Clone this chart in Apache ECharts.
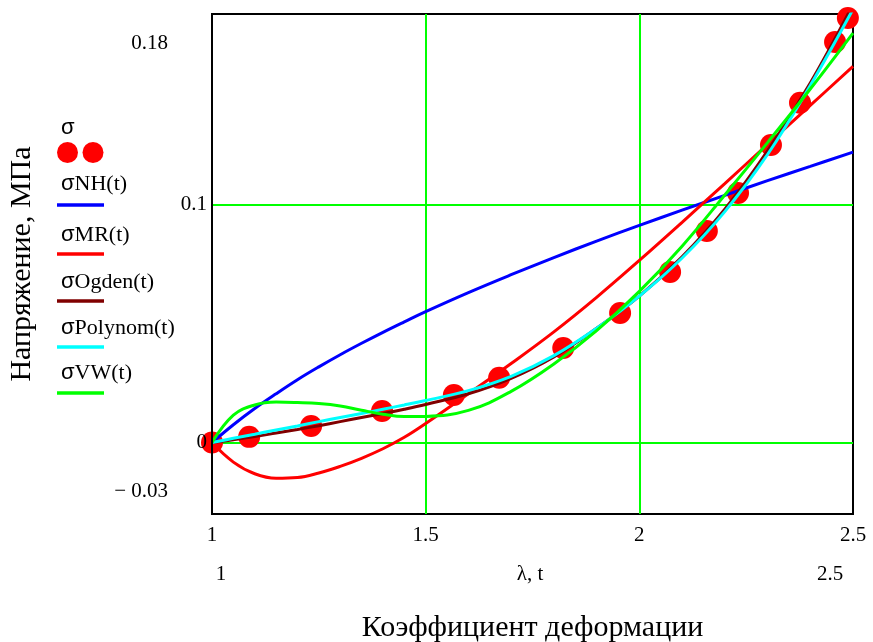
<!DOCTYPE html>
<html>
<head>
<meta charset="utf-8">
<script src="https://cdn.jsdelivr.net/npm/echarts@6/dist/echarts.min.js"></script>
<style>
  html, body { margin: 0; padding: 0; background: #fff; }
  #chart { width: 873px; height: 642px; }
</style>
</head>
<body>
<div id="chart"></div>
<script>
// Measured stress (MPa) against stretch ratio
const lambdaData = [1.0, 1.087, 1.232, 1.398, 1.566, 1.672, 1.822, 1.955, 2.072, 2.158, 2.231, 2.308, 2.376, 2.458, 2.488];
const sigmaData  = [0, 0.0024, 0.0070, 0.0133, 0.0200, 0.0272, 0.0397, 0.0544, 0.0716, 0.0889, 0.1048, 0.1250, 0.1427, 0.1682, 0.1783];

// Model curves sampled along t
const tValues = [1.0, 1.05, 1.1, 1.15, 1.2, 1.25, 1.3, 1.35, 1.4, 1.45, 1.5, 1.6, 1.7, 1.8, 1.9, 2.0, 2.1, 2.2, 2.3, 2.4, 2.5];
const sigmaNH      = [0, 0.0075, 0.0143, 0.0205, 0.0264, 0.0318, 0.0369, 0.0417, 0.0463, 0.0507, 0.0550, 0.0630, 0.0705, 0.0777, 0.0846, 0.0912, 0.0976, 0.1038, 0.1100, 0.1160, 0.1220];
const sigmaMR      = [0, -0.0082, -0.0131, -0.0150, -0.0147, -0.0128, -0.0100, -0.0066, -0.0026, 0.0022, 0.0080, 0.0205, 0.0332, 0.0465, 0.0610, 0.0765, 0.0925, 0.1088, 0.1252, 0.1416, 0.1580];
const sigmaOgden   = [0, 0.0012, 0.0025, 0.0040, 0.0055, 0.0071, 0.0088, 0.0105, 0.0122, 0.0140, 0.0160, 0.0205, 0.0270, 0.0360, 0.0480, 0.0615, 0.0780, 0.0980, 0.1225, 0.1510, 0.1840];
const sigmaPolynom = [0, 0.0018, 0.0035, 0.0053, 0.0070, 0.0088, 0.0105, 0.0122, 0.0140, 0.0158, 0.0177, 0.0218, 0.0278, 0.0365, 0.0480, 0.0615, 0.0775, 0.0970, 0.1210, 0.1500, 0.1820];
const sigmaVW      = [0, 0.0115, 0.0158, 0.0170, 0.0168, 0.0164, 0.0154, 0.0136, 0.0119, 0.0109, 0.0110, 0.0135, 0.0215, 0.0330, 0.0470, 0.0635, 0.0825, 0.1040, 0.1260, 0.1485, 0.1720];

// Grid line positions
const xGridLines = [1.5, 2];
const yGridLines = [0, 0.1];

const legendItems = [
  { name: 'NH(t)', color: '#0000ff' },
  { name: 'MR(t)', color: '#ff0000' },
  { name: 'Ogden(t)', color: '#800000' },
  { name: 'Polynom(t)', color: '#00ffff' },
  { name: 'VW(t)', color: '#00ff00' }
];

const SERIF = '"Liberation Serif", "Times New Roman", serif';
const SANS = '"Liberation Sans", Arial, sans-serif';

function pairs(xs, ys) { return xs.map((x, i) => [x, ys[i]]); }
function near(a, b) { return Math.abs(a - b) < 1e-9; }

const curveSeries = [sigmaNH, sigmaMR, sigmaOgden, sigmaPolynom, sigmaVW].map((ys, i) => ({
  type: 'line',
  name: 'σ' + legendItems[i].name,
  data: pairs(tValues, ys),
  smooth: 0.4,
  showSymbol: false,
  z: 3 + i,
  lineStyle: { color: legendItems[i].color, width: 3 },
  itemStyle: { color: legendItems[i].color },
  clip: true
}));

// Legend drawn as text above a sample line
const legendGraphics = [];
legendGraphics.push({
  type: 'text', x: 61, y: 128,
  style: { text: 'σ', font: '22px ' + SANS, fill: '#000', textVerticalAlign: 'middle' }
});
legendGraphics.push({ type: 'circle', shape: { cx: 67.5, cy: 152.5, r: 10.5 }, style: { fill: '#ff0000' } });
legendGraphics.push({ type: 'circle', shape: { cx: 93, cy: 152.5, r: 10.5 }, style: { fill: '#ff0000' } });
const legendTextY = [184, 235, 282, 328, 373];
const legendLineY = [205, 254, 301, 347, 393];
legendItems.forEach((item, i) => {
  legendGraphics.push({
    type: 'text', x: 61, y: legendTextY[i],
    style: {
      text: '{s|σ}{n|' + item.name + '}',
      textVerticalAlign: 'middle',
      rich: {
        s: { font: '22px ' + SANS, fill: '#000' },
        n: { font: '22px ' + SERIF, fill: '#000' }
      }
    }
  });
  legendGraphics.push({
    type: 'line', shape: { x1: 57, y1: legendLineY[i], x2: 104, y2: legendLineY[i] },
    style: { stroke: item.color, lineWidth: 3.5 }
  });
});

// Secondary x-axis caption row
const captionRow = [
  { text: '1', x: 221 },
  { text: 'λ, t', x: 530 },
  { text: '2.5', x: 830 }
].map(c => ({
  type: 'text', x: c.x, y: 574,
  style: { text: c.text, font: '21px ' + SERIF, fill: '#000', textAlign: 'center', textVerticalAlign: 'middle' }
}));

const option = {
  animation: false,
  backgroundColor: '#fff',
  grid: {
    left: 212, top: 14, width: 641, height: 500,
    show: true, borderColor: '#000', borderWidth: 2,
    containLabel: false, outerBoundsMode: 'none'
  },
  xAxis: {
    type: 'value', min: 1, max: 2.5, interval: 0.5,
    name: 'Коэффициент деформации',
    nameLocation: 'middle', nameGap: 99,
    nameTextStyle: { fontFamily: SERIF, fontSize: 30, color: '#000' },
    axisLine: { lineStyle: { color: '#000', width: 2 } },
    axisTick: { show: false },
    splitLine: { show: false },
    axisLabel: {
      margin: 11, color: '#000', fontFamily: SERIF, fontSize: 21,
      formatter: v => String(Math.round(v * 10) / 10)
    }
  },
  yAxis: {
    type: 'value', min: -0.03, max: 0.18, interval: 0.01, z: 10,
    name: 'Напряжение, МПа',
    nameLocation: 'middle', nameGap: 175, nameRotate: 90,
    nameTextStyle: { fontFamily: SERIF, fontSize: 30, color: '#000' },
    axisLine: { lineStyle: { color: '#000', width: 2 } },
    axisTick: { show: false },
    splitLine: { show: false },
    axisLabel: {
      margin: 5, color: '#000', fontFamily: SERIF, fontSize: 21,
      formatter: v => {
        if (near(v, 0)) return '0';
        if (near(v, 0.1)) return '0.1';
        if (near(v, 0.18)) return '{top|0.18}';
        if (near(v, -0.03)) return '{bot|− 0.03}';
        return '';
      },
      rich: {
        top: { fontFamily: SERIF, fontSize: 21, color: '#000', padding: [58, 39, 0, 0] },
        bot: { fontFamily: SERIF, fontSize: 21, color: '#000', padding: [0, 39, 46, 0] }
      }
    }
  },
  graphic: legendGraphics.concat(captionRow),
  series: [
    {
      type: 'line', data: [], z: 1, silent: true,
      markLine: {
        z: 1, silent: true, symbol: 'none', animation: false,
        label: { show: false },
        lineStyle: { color: '#00ff00', width: 2, type: 'solid' },
        data: xGridLines.map(x => ({ xAxis: x })).concat(yGridLines.map(y => ({ yAxis: y })))
      }
    },
    {
      type: 'scatter', name: 'σ', z: 2,
      data: pairs(lambdaData, sigmaData),
      symbol: 'circle', symbolSize: 22,
      itemStyle: { color: '#ff0000', opacity: 1 }
    }
  ].concat(curveSeries)
};

const chart = echarts.init(document.getElementById('chart'), null, { renderer: 'canvas' });
chart.setOption(option);
</script>
</body>
</html>
